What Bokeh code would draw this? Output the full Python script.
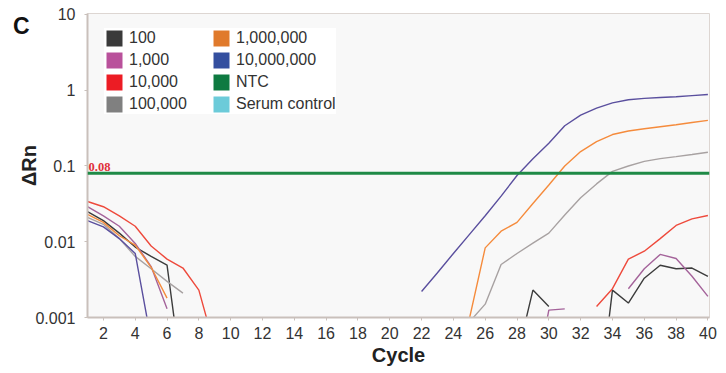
from bokeh.plotting import figure
from bokeh.models import (ColumnDataSource, FixedTicker, CustomJSTickFormatter, Legend,
                          LegendItem, Label, Span, Range1d, LogAxis)
from bokeh.embed import file_html
from bokeh.resources import INLINE

nan = float("nan")

cycles = list(range(1, 41))

s_100 = [0.025, 0.019, 0.013, 0.0085, 0.0064, 0.0049, 0.00013,
         nan, nan, nan, nan, nan, nan, nan, nan, nan, nan,
         nan, nan, nan, nan, nan, nan, nan, nan, nan, nan,
         0.0003, 0.0023, 0.0014, nan, nan,
         0.00004, 0.0023, 0.00155, 0.0033, 0.0049, 0.0044, 0.0045, 0.0035]

s_1000 = [0.029, 0.022, 0.016, 0.0095, 0.0047, 0.0013,
          nan, nan, nan, nan, nan, nan, nan, nan, nan, nan, nan,
          nan, nan, nan, nan, nan, nan, nan, nan, nan, nan, nan,
          0.0001, 0.00125, 0.0013, nan, nan, nan,
          0.0024, 0.0044, 0.0068, 0.006, 0.0035, 0.0019]

s_10000 = [0.034, 0.029, 0.022, 0.016, 0.0088, 0.0059, 0.0045, 0.0023, 0.0004,
           nan, nan, nan, nan, nan, nan, nan, nan, nan, nan, nan, nan,
           nan, nan, nan, nan, nan, nan, nan, nan, nan, nan, nan,
           0.0014, 0.0024, 0.0059, 0.0075, 0.011, 0.0164, 0.02, 0.0222]

s_100000 = [0.021, 0.017, 0.011, 0.0064, 0.0044, 0.003, 0.0021,
            nan, nan, nan, nan, nan, nan, nan, nan, nan, nan,
            nan, nan, nan, nan, nan, nan, nan,
            0.00087, 0.0015, 0.005, 0.007, 0.0096, 0.013, 0.0225, 0.038,
            0.058, 0.085, 0.1, 0.115, 0.125, 0.133, 0.142, 0.152]

s_1000000 = [0.023, 0.018, 0.012, 0.009, 0.0046, 0.0018,
             nan, nan, nan, nan, nan, nan, nan, nan, nan, nan,
             nan, nan, nan, nan, nan, nan, nan, nan,
             0.00095, 0.0083, 0.0138, 0.018, 0.032, 0.056, 0.1, 0.155,
             0.21, 0.26, 0.29, 0.31, 0.33, 0.35, 0.375, 0.40]

s_10000000 = [0.019, 0.0157, 0.011, 0.007, 0.0005,
              nan, nan, nan, nan, nan, nan, nan, nan, nan, nan,
              nan, nan, nan, nan, nan, nan,
              0.0022, 0.0039, 0.007, 0.0124, 0.022, 0.04, 0.075, 0.125,
              0.2, 0.34, 0.47, 0.58, 0.68, 0.75, 0.78, 0.8, 0.82, 0.85, 0.88]

threshold = 0.08
threshold_label = "0.08"

series_names = ["100", "1,000", "10,000", "100,000", "1,000,000", "10,000,000"]
series_values = [s_100, s_1000, s_10000, s_100000, s_1000000, s_10000000]
line_colors = ["#3c3c3c", "#a4639a", "#ee4a3c", "#a8a2a2", "#f58b3c", "#5a4f9e"]

legend_names = ["100", "1,000", "10,000", "100,000",
                "1,000,000", "10,000,000", "NTC", "Serum control"]
legend_colors = ["#3a3a3a", "#b9519b", "#ec1c24", "#808080",
                 "#e07a2c", "#344f9f", "#0e7a41", "#6ccbd9"]

x_ticks = [2, 4, 6, 8, 10, 12, 14, 16, 18, 20, 22, 24, 26, 28, 30, 32, 34, 36, 38, 40]
y_ticks = [0.001, 0.01, 0.1, 1, 10]
y_tick_labels = ["0.001", "0.01", "0.1", "1", "10"]

panel_letter = "C"
panel_letter_level = 7.0   # vertical placement of the panel letter, in ΔRn units

FONT = "Liberation Sans"
AXIS_COLOR = "#c9c0bb"

p = figure(width=718, height=370, x_range=Range1d(1, 40.1), y_range=Range1d(0.001, 10.3),
           y_axis_type="log", output_backend="svg", toolbar_location=None,
           min_border_left=87, min_border_right=9, min_border_top=13, min_border_bottom=53,
           background_fill_color="#f8f8f8", border_fill_color="white",
           outline_line_color="#ddd6d2", outline_line_width=1)

p.xgrid.visible = False
p.ygrid.visible = False

# threshold line (NTC colour)
p.add_layout(Span(location=threshold, dimension="width", line_color="#1e8a46", line_width=3))

for vals, col in zip(series_values, line_colors):
    src = ColumnDataSource(dict(x=cycles, y=vals))
    p.line("x", "y", source=src, line_color=col, line_width=1.4)

p.add_layout(Label(x=1, y=threshold, x_offset=1, y_offset=2, text=threshold_label,
                   text_font="Liberation Serif", text_font_style="bold",
                   text_font_size="12.5px", text_color="#e0303a", text_baseline="bottom"))

# legend swatches (invisible in plot area, drawn only in the legend)
items = []
for name, col in zip(legend_names, legend_colors):
    r = p.quad(left=[nan], right=[nan], top=[nan], bottom=[nan], fill_color=col, line_color=None)
    items.append(LegendItem(label=name, renderers=[r], index=0))

legend = Legend(items=items, location=(17, 203), orientation="vertical", nrows=4,
                glyph_width=20, glyph_height=20, label_standoff=5, label_width=80,
                label_height=20, spacing=2, padding=5, margin=0,
                label_text_font=FONT, label_text_font_size="16px", label_text_color="#333333",
                background_fill_color="white", background_fill_alpha=1.0,
                border_line_color=None)
p.add_layout(legend)

xax = p.xaxis[0]
yax = p.yaxis[0]

# axes
for ax in (xax, yax):
    ax.axis_line_color = AXIS_COLOR
    ax.axis_line_width = 2
    ax.major_tick_line_color = AXIS_COLOR
    ax.major_tick_line_width = 1
    ax.major_tick_out = 3
    ax.major_tick_in = 0
    ax.minor_tick_line_color = None
    ax.major_label_text_font = FONT
    ax.major_label_text_font_size = "16px"
    ax.major_label_text_color = "#333333"
    ax.axis_label_text_font = FONT
    ax.axis_label_text_font_style = "bold"
    ax.axis_label_text_font_size = "20px"
    ax.axis_label_text_color = "#222222"

xax.ticker = FixedTicker(ticks=x_ticks)
xax.axis_label = "Cycle"
xax.major_label_standoff = 6
xax.axis_label_standoff = 2

yax.ticker = FixedTicker(ticks=y_ticks, minor_ticks=[])
yax.formatter = CustomJSTickFormatter(args=dict(vals=y_ticks, labels=y_tick_labels),
                                      code="const i = vals.indexOf(tick); return i >= 0 ? labels[i] : String(tick);")
yax.axis_label = "ΔRn"
yax.major_label_standoff = 9
yax.axis_label_standoff = -8

# panel letter "C", drawn as the single label of an extra, line-less axis outside the y axis
letter_axis = LogAxis(ticker=FixedTicker(ticks=[panel_letter_level], minor_ticks=[]),
                      formatter=CustomJSTickFormatter(args=dict(t=panel_letter), code="return t;"),
                      axis_line_color=None, major_tick_line_color=None, minor_tick_line_color=None,
                      major_tick_out=0, major_tick_in=0, major_label_standoff=-14,
                      major_label_text_font=FONT, major_label_text_font_style="bold",
                      major_label_text_font_size="23px", major_label_text_color="#111111")
p.add_layout(letter_axis, "left")

open("out.html", "w").write(file_html(p, INLINE))
